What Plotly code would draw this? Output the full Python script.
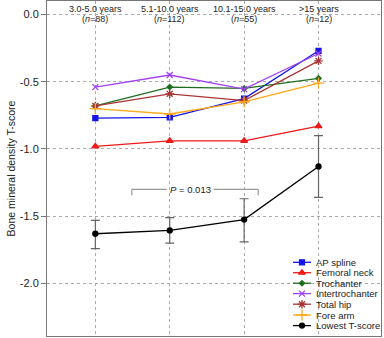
import plotly.graph_objects as go

cats = [1, 2, 3, 4]
cat_labels = ["3.0-5.0 years", "5.1-10.0 years", "10.1-15.0 years", ">15 years"]
cat_n = ["88", "112", "55", "12"]

ap_spline = [-0.77, -0.765, -0.625, -0.27]
femoral_neck = [-0.98, -0.94, -0.94, -0.83]
trochanter = [-0.68, -0.54, -0.55, -0.475]
intertrochanter = [-0.54, -0.45, -0.555, -0.29]
total_hip = [-0.68, -0.59, -0.64, -0.345]
fore_arm = [-0.70, -0.74, -0.65, -0.51]
lowest = [-1.63, -1.605, -1.525, -1.13]
lowest_err_plus = [0.10, 0.095, 0.155, 0.23]
lowest_err_minus = [0.11, 0.095, 0.165, 0.23]

series = [
    ("AP spline", ap_spline, "#1414e6", "square", 5),
    ("Femoral neck", femoral_neck, "#ee1a1a", "triangle-up", 6),
    ("Trochanter", trochanter, "#1f6e1f", "diamond", 4),
    ("Intertrochanter", intertrochanter, "#a040f0", "x-thin-open", 6),
    ("Total hip", total_hip, "#a83434", "asterisk-open", 7),
    ("Fore arm", fore_arm, "#ffa81a", "cross-thin-open", 8),
    ("Lowest T-score", lowest, "#000000", "circle", 5),
]

FONT = "Liberation Sans, Arial, sans-serif"
fig = go.Figure()
for name, vals, col, sym, sz in series:
    kw = {}
    if name == "Lowest T-score":
        kw["error_y"] = dict(type="data", symmetric=False, array=lowest_err_plus,
                             arrayminus=lowest_err_minus, color="#666666",
                             thickness=1.2, width=4.5)
    fig.add_trace(go.Scatter(
        x=cats, y=vals, name=name, mode="lines+markers", showlegend=False,
        line=dict(color=col, width=1.3),
        marker=dict(symbol=sym, size=sz, color=col, line=dict(color=col, width=1.3)),
        **kw,
    ))

# manual legend on an overlay axis measured in pixels of the plot area
leg_rows = [262.3, 272.7, 283.2, 293.6, 304.2, 315.0, 325.6]
for (name, vals, col, sym, sz), ry in zip(series, leg_rows):
    fig.add_trace(go.Scatter(x=[293, 311], y=[ry, ry], mode="lines", xaxis="x2", yaxis="y2",
                             line=dict(color=col, width=1.3), showlegend=False, hoverinfo="skip"))
    fig.add_trace(go.Scatter(x=[302], y=[ry], mode="markers", xaxis="x2", yaxis="y2",
                             marker=dict(symbol=sym, size=sz, color=col, line=dict(color=col, width=1.3)),
                             showlegend=False, hoverinfo="skip"))
    fig.add_annotation(x=314, y=ry, xref="x2", yref="y2", text=name, showarrow=False,
                       xanchor="left", yanchor="middle", font=dict(size=9.5, color="#222"))

# top category annotations
for c, lab, n in zip(cats, cat_labels, cat_n):
    fig.add_annotation(x=c, y=0.095, xref="x", yref="y", text=lab, showarrow=False,
                       yanchor="top", font=dict(size=9, color="#222"))
    fig.add_annotation(x=c, y=0.02, xref="x", yref="y", text="(<i>n</i>=" + n + ")",
                       showarrow=False, yanchor="top", font=dict(size=9, color="#222"))

# P-value bracket
p_left, p_right, p_y, p_tick = 1.49, 3.19, -1.30, -1.345
gap_l, gap_r = 1.96, 2.59
bc = "#9a9a9a"
fig.add_shape(type="line", x0=p_left, x1=gap_l, y0=p_y, y1=p_y, line=dict(color=bc, width=1.2))
fig.add_shape(type="line", x0=gap_r, x1=p_right, y0=p_y, y1=p_y, line=dict(color=bc, width=1.2))
fig.add_shape(type="line", x0=p_left, x1=p_left, y0=p_y, y1=p_tick, line=dict(color=bc, width=1.2))
fig.add_shape(type="line", x0=p_right, x1=p_right, y0=p_y, y1=p_tick, line=dict(color=bc, width=1.2))
fig.add_annotation(x=(gap_l + gap_r) / 2, y=p_y, text="<i>P</i> = 0.013", showarrow=False,
                   font=dict(size=9.5, color="#222"))

fig.update_layout(
    width=384, height=338,
    margin=dict(l=47, r=3, t=1, b=2),
    paper_bgcolor="white", plot_bgcolor="white",
    font=dict(family=FONT, color="#222"),
    showlegend=False,
    xaxis=dict(range=[0.35, 4.84], tickvals=cats, showticklabels=False,
               showgrid=True, gridcolor="#aaaaaa", griddash="dot", gridwidth=1,
               zeroline=False, showline=True, mirror=True, linecolor="#777", linewidth=1),
    yaxis=dict(range=[-2.39, 0.1], tickvals=[0, -0.5, -1, -1.5, -2],
               ticktext=["0.0", "-0.5", "-1.0", "-1.5", "-2.0"],
               showgrid=True, gridcolor="#aaaaaa", griddash="dot", gridwidth=1,
               zeroline=False, showline=True, mirror=True, linecolor="#777", linewidth=1,
               ticks="outside", ticklen=5, tickcolor="#777",
               tickfont=dict(size=11),
               title=dict(text="Bone mineral density T-score", font=dict(size=10.5), standoff=2)),
    xaxis2=dict(range=[47, 381], overlaying="x", visible=False, fixedrange=True),
    yaxis2=dict(range=[336, 1], overlaying="y", visible=False, fixedrange=True),
)

fig.write_html("out.html", config={"displayModeBar": False},
               post_script="document.body.style.margin='0';document.body.style.overflow='hidden';")
